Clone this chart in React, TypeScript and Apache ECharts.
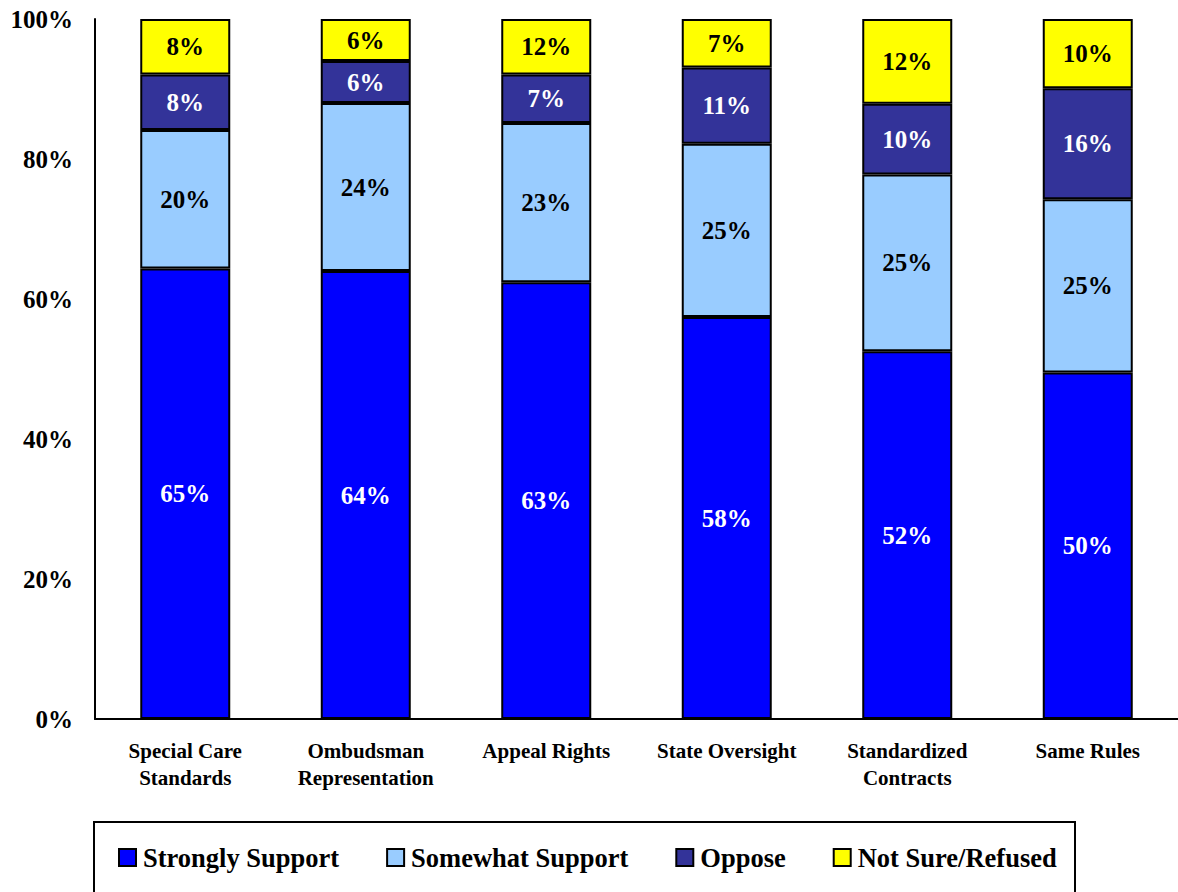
import React, { useEffect, useRef } from "react";
import * as echarts from "echarts";

const categories = [
  "Special Care\nStandards",
  "Ombudsman\nRepresentation",
  "Appeal Rights",
  "State Oversight",
  "Standardized\nContracts",
  "Same Rules",
];

const seriesNames = ["Strongly Support", "Somewhat Support", "Oppose", "Not Sure/Refused"];

// raw survey values (segment sizes)
const stronglySupport = [65, 64, 63, 58, 52, 50];
const somewhatSupport = [20, 24, 23, 25, 25, 25];
const oppose = [8, 6, 7, 11, 10, 16];
const notSure = [8, 6, 8, 7, 12, 10];

// printed labels
const stronglyLabels = ["65%", "64%", "63%", "58%", "52%", "50%"];
const somewhatLabels = ["20%", "24%", "23%", "25%", "25%", "25%"];
const opposeLabels = ["8%", "6%", "7%", "11%", "10%", "16%"];
const notSureLabels = ["8%", "6%", "12%", "7%", "12%", "10%"];

const colors = ["#0000FF", "#99CCFF", "#333399", "#FFFF00"];
const labelColors = ["#FFFFFF", "#000000", "#FFFFFF", "#000000"];

const yTicks = [0, 20, 40, 60, 80, 100];

const FONT = "Liberation Serif";

export default function App() {
  const ref = useRef<HTMLDivElement>(null);

  useEffect(() => {
    if (!ref.current) return;
    const chart = echarts.init(ref.current, null, { renderer: "svg" });

    const raw = [stronglySupport, somewhatSupport, oppose, notSure];
    const labels = [stronglyLabels, somewhatLabels, opposeLabels, notSureLabels];
    const totals = categories.map((_, i) => raw.reduce((s, arr) => s + arr[i], 0));

    const series = raw.map((arr, k) => ({
      name: seriesNames[k],
      type: "bar",
      stack: "total",
      barWidth: 90,
      data: arr.map((v, i) => (v / totals[i]) * 100),
      itemStyle: { color: colors[k], borderColor: "#000000", borderWidth: 2 },
      label: {
        show: true,
        position: "inside",
        color: labelColors[k],
        fontFamily: FONT,
        fontWeight: "bold",
        fontSize: 25,
        formatter: (p: any) => labels[k][p.dataIndex],
      },
    }));

    chart.setOption({
      animation: false,
      backgroundColor: "#FFFFFF",
      textStyle: { fontFamily: FONT },
      grid: { left: 95, top: 19, right: -8, bottom: 173, containLabel: false },
      xAxis: {
        type: "category",
        data: categories,
        axisLine: { show: true, lineStyle: { color: "#000000", width: 2 } },
        axisTick: { show: false },
        axisLabel: {
          color: "#000000",
          fontFamily: FONT,
          fontWeight: "bold",
          fontSize: 21,
          lineHeight: 27,
          margin: 18,
          interval: 0,
        },
      },
      yAxis: {
        type: "value",
        min: yTicks[0],
        max: yTicks[yTicks.length - 1],
        interval: 20,
        axisLine: { show: true, lineStyle: { color: "#000000", width: 2 } },
        axisTick: { show: false },
        splitLine: { show: false },
        axisLabel: {
          color: "#000000",
          fontFamily: FONT,
          fontWeight: "bold",
          fontSize: 25,
          margin: 22,
          formatter: "{value}%",
        },
      },
      legend: {
        data: seriesNames,
        left: 118,
        top: 844,
        padding: 0,
        itemWidth: 17,
        itemHeight: 17,
        itemGap: 47,
        icon: "rect",
        textStyle: {
          color: "#000000",
          fontFamily: FONT,
          fontWeight: "bold",
          fontSize: 26.5,
          padding: [0, 0, 0, 2],
        },
      },
      graphic: [
        {
          type: "rect",
          shape: { x: 94, y: 822, width: 981, height: 100 },
          style: { fill: "none", stroke: "#000000", lineWidth: 2 },
          silent: true,
        },
      ],
      series,
    });

    return () => chart.dispose();
  }, []);

  return (
    <div
      ref={ref}
      style={{ position: "absolute", left: 0, top: 0, width: 1178, height: 892 }}
    />
  );
}
